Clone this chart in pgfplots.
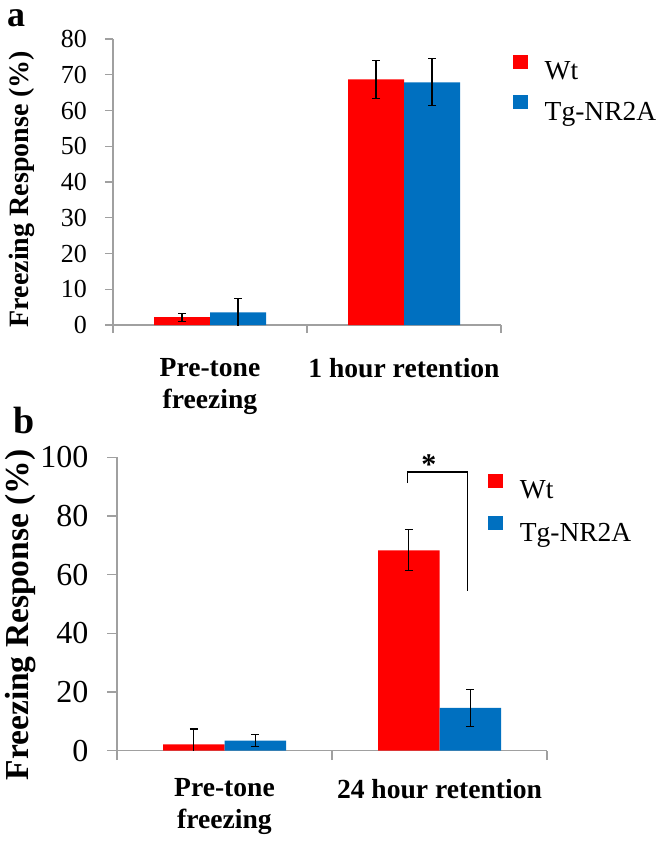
\documentclass[border=0pt]{standalone}
\usepackage{fontspec}
\setmainfont{Liberation Serif}
\usepackage{pgfplots}
\pgfplotsset{compat=1.18}
\definecolor{wtred}{HTML}{FF0000}
\definecolor{tgblue}{HTML}{0070C0}
\definecolor{axgray}{HTML}{A0A0A0}
\begin{document}
\begin{tikzpicture}
\useasboundingbox (0pt,0pt) rectangle (665pt,-845pt);
\pgfplotsset{
  common/.style={
    scale only axis,
    anchor=south west,
    ybar=0pt,
    xmin=-0.5, xmax=1.5,
    ymin=0,
    axis x line*=bottom, axis y line*=left,
    axis line style={axgray, line width=1.2pt},
    tick style={axgray, line width=1.2pt},
    tick align=outside,
    xtick={-0.5,0.5,1.5}, xticklabels={},
    /pgf/number format/assume math mode=true,
    yticklabel style={anchor=east, inner sep=0pt},
    extra x ticks={0,1},
    extra x tick style={major tick length=0pt,
      xticklabel style={anchor=north, inner sep=0pt, align=center,
        font=\bfseries\fontsize{27.6}{32}\selectfont}},
    error bars/y dir=both, error bars/y explicit,
    error bars/error bar style={black, line width=1.1pt},
    error bars/error mark options={rotate=90, black, line width=1.1pt, mark size=4pt},
    legend cell align=left,
    clip mode=individual,
    legend style={anchor=north west, draw=none, fill=none, inner sep=0pt,
      font=\fontsize{27.5}{30}\selectfont, column sep=17pt,
      nodes={inner sep=0pt}},
  },
  sq/.style={legend image code/.code={\fill[##1] (0pt,3pt) rectangle (14.5pt,17pt);}},
}
% ---------------- panel a
\begin{axis}[common,
  at={(113pt,-325pt)},
  width=388pt, height=286pt,
  ymax=80, ytick={0,10,...,80},
  bar width=56pt,
  major tick length=8pt,
  yticklabel style={font=\fontsize{26}{26}\selectfont, xshift=-18pt},
  extra x tick labels={Pre-tone\\freezing, 1 hour retention},
  extra x tick style={xticklabel style={yshift=-33pt}},
  ylabel={Freezing Response (\%)},
  ylabel style={at={(axis description cs:-0.2345,0.4755)}, anchor=center,
    font=\bfseries\fontsize{28}{28}\selectfont},
  legend style={at={(axis description cs:1.031,0.946)}, row sep=14pt},
]
\addplot[fill=wtred, draw=none, sq] coordinates {(0,2.2) +- (0,1.1) (1,68.7) +- (0,5.3)};
\addlegendentry{Wt}
\addplot[fill=tgblue, draw=none, sq] coordinates {(0,3.5) +- (0,4.0) (1,67.9) +- (0,6.6)};
\addlegendentry{Tg-NR2A}
\end{axis}
% ---------------- panel b
\begin{axis}[common,
  at={(117pt,-750.7pt)},
  width=430pt, height=293.4pt,
  ymax=100, ytick={0,20,...,100},
  bar width=61.5pt,
  major tick length=9.5pt,
  yticklabel style={font=\fontsize{32}{32}\selectfont, xshift=-19pt},
  extra x tick labels={Pre-tone\\freezing, 24 hour retention},
  extra x tick style={xticklabel style={yshift=-28pt}},
  ylabel={Freezing Response (\%)},
  ylabel style={at={(axis description cs:-0.225,0.4625)}, anchor=center,
    font=\bfseries\fontsize{33.5}{33.5}\selectfont},
  legend style={at={(axis description cs:0.863,0.945)}, row sep=16pt},
]
\addplot[fill=wtred, draw=none, sq] coordinates {(0,2.2) +- (0,5.2) (1,68.3) +- (0,7.0)};
\addlegendentry{Wt}
\addplot[fill=tgblue, draw=none, sq] coordinates {(0,3.4) +- (0,2.0) (1,14.6) +- (0,6.3)};
\addlegendentry{Tg-NR2A}
\draw[black, line width=1.1pt] (axis cs:0.850,91.2) -- (axis cs:0.850,95) -- (axis cs:1.131,95) -- (axis cs:1.131,54.4);
\node[font=\bfseries\fontsize{30}{30}\selectfont, inner sep=0pt] at (axis cs:0.951,97.5) {*};
\end{axis}
\node[anchor=base west, inner sep=0pt, font=\bfseries\fontsize{36}{36}\selectfont] at (7pt,-27pt) {a};
\node[anchor=base west, inner sep=0pt, font=\bfseries\fontsize{38}{38}\selectfont] at (13pt,-433pt) {b};
\end{tikzpicture}
\end{document}
